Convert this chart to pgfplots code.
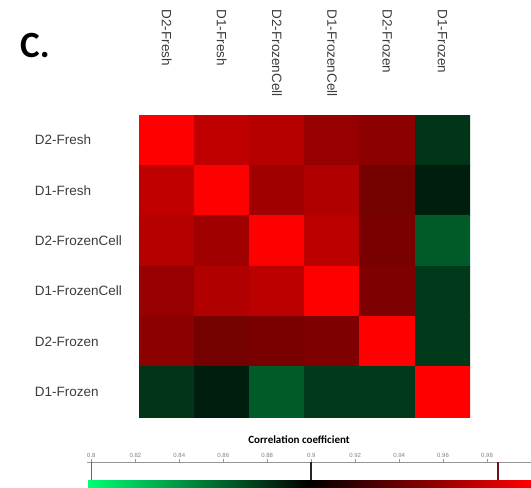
\documentclass[border=0pt]{standalone}
\usepackage{fontspec}
\setmainfont{Liberation Sans}
\newfontfamily\calibri{Carlito}
\usepackage{pgfplots}
\pgfplotsset{compat=1.18}
\definecolor{lbl}{RGB}{60,60,60}
\definecolor{rulegray}{RGB}{150,150,150}
\definecolor{markred}{RGB}{110,20,20}

\begin{document}
\begin{tikzpicture}
\path[use as bounding box] (0,0) rectangle (531pt,-488pt);
\node[anchor=base west, inner sep=0pt, font=\calibri\bfseries\fontsize{37}{37}\selectfont] at (20pt,-57pt) {C.};
\node[anchor=base, inner sep=0pt, font=\calibri\bfseries\fontsize{11}{11}\selectfont] at (299pt,-443pt) {Correlation coefficient};

% heatmap
\begin{axis}[
  at={(139pt,-115pt)}, anchor=north west,
  scale only axis, width=331pt, height=302pt,
  xmin=-0.5, xmax=5.5, ymin=-0.5, ymax=5.5,
  y dir=reverse,
  axis line style={draw=none},
  major tick length=0pt,
  xtick={0,...,5}, ytick={0,...,5},
  xticklabels={D2-Fresh,D1-Fresh,D2-FrozenCell,D1-FrozenCell,D2-Frozen,D1-Frozen},
  yticklabels={D2-Fresh,D1-Fresh,D2-FrozenCell,D1-FrozenCell,D2-Frozen,D1-Frozen},
  xticklabel pos=upper,
  xticklabel shift=109pt,
  xticklabel style={rotate=-90, anchor=west, font=\fontsize{13.5}{14}\selectfont, text=lbl},
  yticklabel style={text width=104pt, align=left, inner sep=0pt, font=\fontsize{13.5}{14}\selectfont, text=lbl},
  colormap={rg}{rgb255(0cm)=(0,255,115); rgb255(1cm)=(0,0,0); rgb255(2cm)=(255,0,0)},
  point meta min=0.798, point meta max=1.0,
  colorbar horizontal,
  colorbar shift/.style={xshift=-52pt, yshift=-63pt},
  colorbar style={
    at={(parent axis.south west)}, anchor=north west,
    scale only axis, width=444pt, height=9pt,
    xtick=\empty, ytick=\empty,
    axis line style={draw=none},
  },
]
\addplot[matrix plot*, mesh/cols=6, point meta=explicit] table[meta=c] {
x y c
0 0 1.000
1 0 0.975
2 0 0.971
3 0 0.959
4 0 0.955
5 0 0.878
0 1 0.975
1 1 1.000
2 1 0.963
3 1 0.969
4 1 0.945
5 1 0.887
0 2 0.971
1 2 0.963
2 2 1.000
3 2 0.973
4 2 0.947
5 2 0.863
0 3 0.959
1 3 0.969
2 3 0.973
3 3 1.000
4 3 0.949
5 3 0.876
0 4 0.955
1 4 0.945
2 4 0.947
3 4 0.949
4 4 1.000
5 4 0.876
0 5 0.878
1 5 0.887
2 5 0.863
3 5 0.876
4 5 0.876
5 5 1.000
};
\end{axis}

% ruler above the colour bar
\begin{axis}[
  at={(87pt,-462pt)}, anchor=north west,
  scale only axis, width=444pt, height=18pt,
  xmin=0.798, xmax=1.0, ymin=0, ymax=1,
  axis y line=none, axis x line=top,
  x axis line style={-, rulegray, line width=0.8pt},
  tick align=outside, major tick length=3pt,
  xtick={0.8,0.82,0.84,0.86,0.88,0.9,0.92,0.94,0.96,0.98},
  xticklabels={0.8,0.82,0.84,0.86,0.88,0.9,0.92,0.94,0.96,0.98},
  xtick style={rulegray},
  xticklabel style={font=\fontsize{6}{6}\selectfont, text=gray, inner sep=1pt},
  /pgf/number format/assume math mode=true,
  clip=false,
]
\addplot[line width=1.6pt, draw=black!60] coordinates {(0.8,0) (0.8,1)};
\addplot[line width=1.6pt, draw=black!85] coordinates {(0.9,0) (0.9,1)};
\addplot[line width=1.6pt, draw=markred] coordinates {(0.985,0) (0.985,1)};
\end{axis}
\end{tikzpicture}
\end{document}
